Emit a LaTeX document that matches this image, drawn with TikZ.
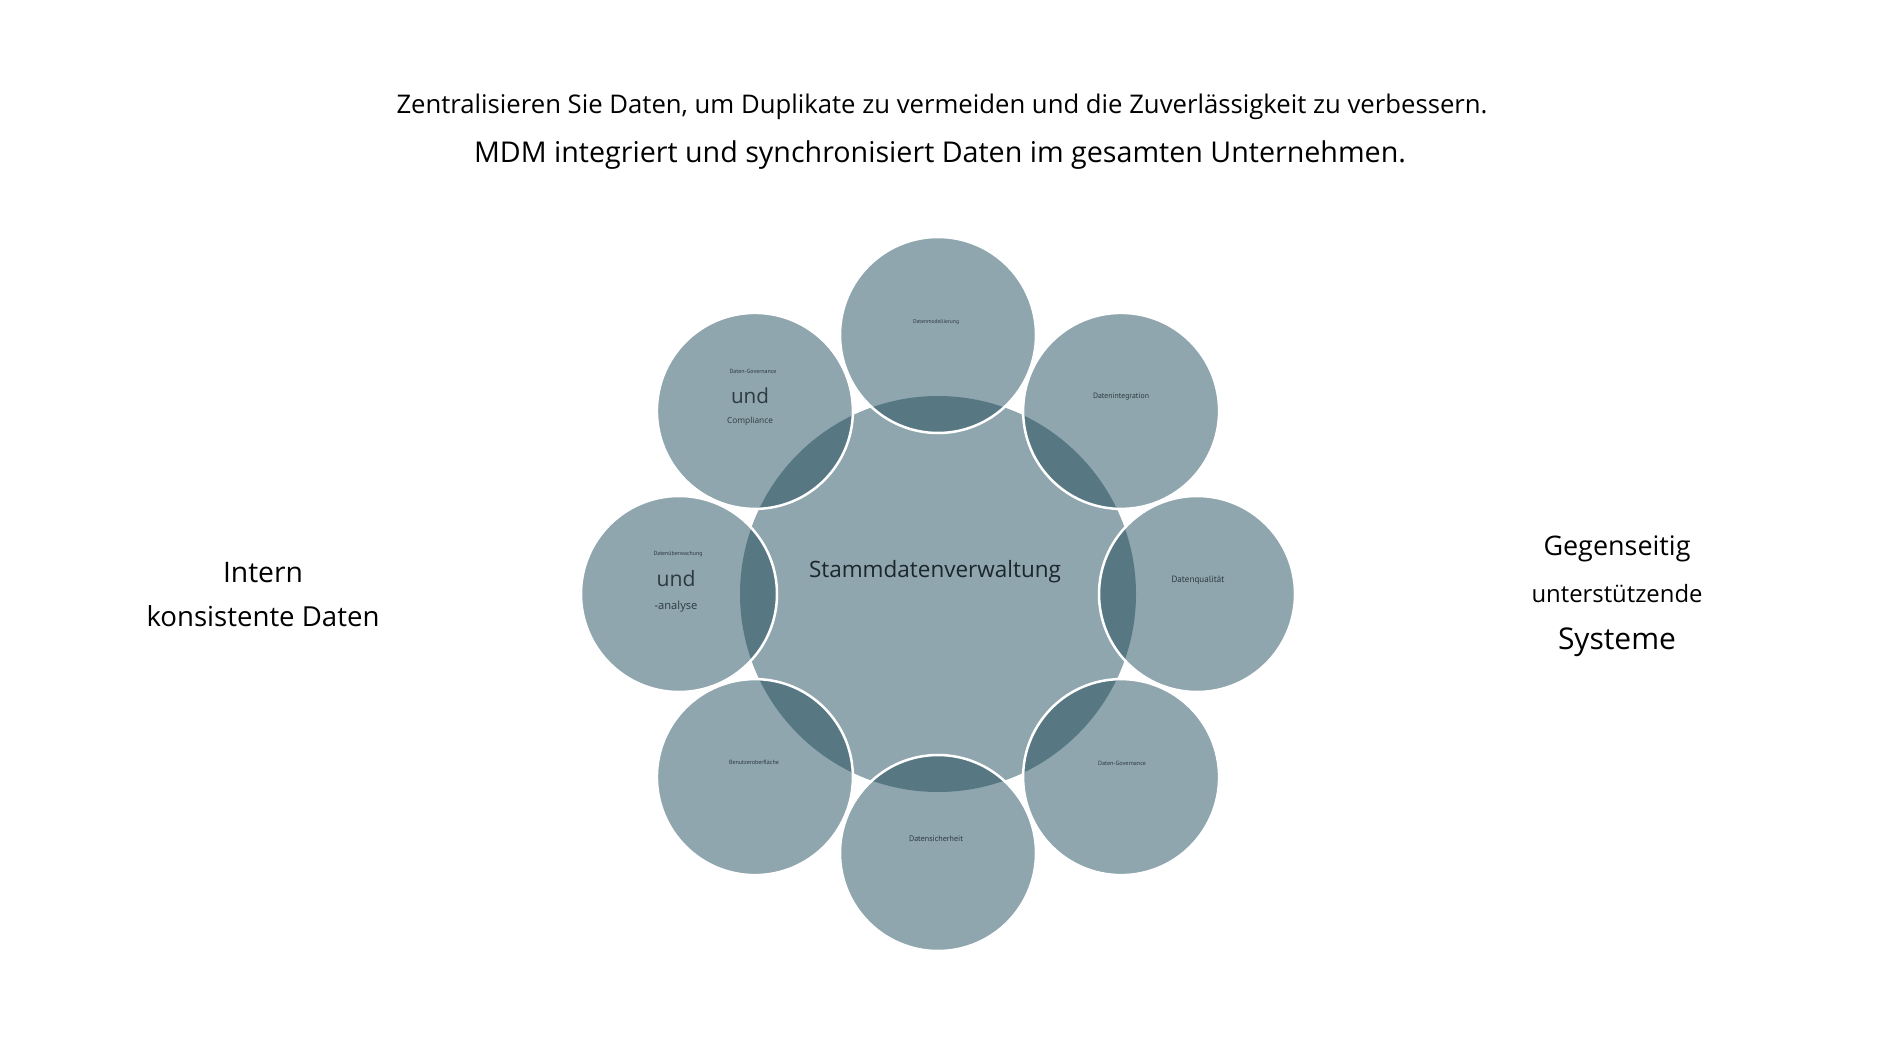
\documentclass[tikz,border=0pt]{standalone}
\usepackage{fontspec}
\setmainfont{Open Sans}
\newfontfamily\narrowfont{PT Sans}
\definecolor{lightc}{HTML}{8FA6AE}
\definecolor{darkc}{HTML}{577883}
\definecolor{labc}{HTML}{2E3A40}
\definecolor{cenc}{HTML}{1C262C}
\newcommand\fittext[2]{%
  \setbox0\hbox{\fontsize{10}{12}\selectfont #2}%
  \edef\myfitw{\the\wd0}%
  \pgfmathsetmacro\myfitfs{10*#1/\myfitw}%
  \fontsize{\myfitfs}{\myfitfs}\selectfont #2}
\tikzset{
  txt/.style={inner sep=0pt, text=black, anchor=base},
  sattxt/.style={inner sep=0pt, text=labc, anchor=center},
  tinytxt/.style={sattxt, font=\narrowfont},
  satfill/.style={fill=lightc},
  satlens/.style={fill=darkc},
  satrim/.style={draw=white, line width=2.5pt},
}
\begin{document}
\begin{tikzpicture}[x=1pt,y=-1pt]
\useasboundingbox (0,0) rectangle (1884,1060);
% centres
\coordinate (C) at (938,594);
\coordinate (sA) at (938,335);
\coordinate (sB) at (1121.1,410.9);
\coordinate (sC) at (1197,594);
\coordinate (sD) at (1121.1,777.1);
\coordinate (sE) at (938,853);
\coordinate (sF) at (754.9,777.1);
\coordinate (sG) at (679,594);
\coordinate (sH) at (754.9,410.9);
% central circle
\fill[lightc] (C) circle (198pt);
% satellites
\foreach \s in {sA,sB,sC,sD,sE,sF,sG,sH}{
  \fill[satfill] (\s) circle (98pt);
}
\foreach \s in {sA,sB,sC,sD,sE,sF,sG,sH}{
  \begin{scope}
    \clip (C) circle (198pt);
    \fill[satlens] (\s) circle (98pt);
  \end{scope}
}
\foreach \s in {sA,sB,sC,sD,sE,sF,sG,sH}{
  \draw[satrim] (\s) circle (98pt);
}
% titles
\node[txt] (t1) at (942,113) {\fittext{1091}{Zentralisieren Sie Daten, um Duplikate zu vermeiden und die Zuverlässigkeit zu verbessern.}};
\node[txt] (t2) at (940,162) {\fittext{932}{MDM integriert und synchronisiert Daten im gesamten Unternehmen.}};
% side texts
\node[txt] (l1) at (263,582) {\fittext{80}{Intern}};
\node[txt] (l2) at (263,626) {\fittext{233}{konsistente Daten}};
\node[txt] (r1) at (1617,555) {\fittext{147}{Gegenseitig}};
\node[txt] (r2) at (1617,602) {\fittext{171}{unterstützende}};
\node[txt] (r3) at (1617,649) {\fittext{118}{Systeme}};
% centre label
\node[txt, text=cenc] (cl) at (935,577) {\fittext{252}{Stammdatenverwaltung}};
% satellite labels
\node[tinytxt] (la) at (936,322) {\fittext{46}{Datenmodellierung}};
\node[tinytxt] (lb) at (1121,397) {\fittext{56}{Datenintegration}};
\node[tinytxt] (lc) at (1198,580) {\fittext{53}{Datenqualität}};
\node[tinytxt] (ld) at (1122,763) {\fittext{48}{Daten-Governance}};
\node[tinytxt] (le) at (936,839) {\fittext{54}{Datensicherheit}};
\node[tinytxt] (lf) at (754,762) {\fittext{50}{Benutzeroberfläche}};
\node[tinytxt] (lg1) at (678,554) {\fittext{49}{Datenüberwachung}};
\node[sattxt] (lg2) at (676,579) {\fittext{39}{und}};
\node[sattxt] (lg3) at (676,607) {\fittext{43}{-analyse}};
\node[tinytxt] (lh1) at (753,371) {\fittext{47}{Daten-Governance}};
\node[sattxt] (lh2) at (750,396) {\fittext{38}{und}};
\node[sattxt] (lh3) at (750,421) {\fittext{46}{Compliance}};
\end{tikzpicture}
\end{document}
